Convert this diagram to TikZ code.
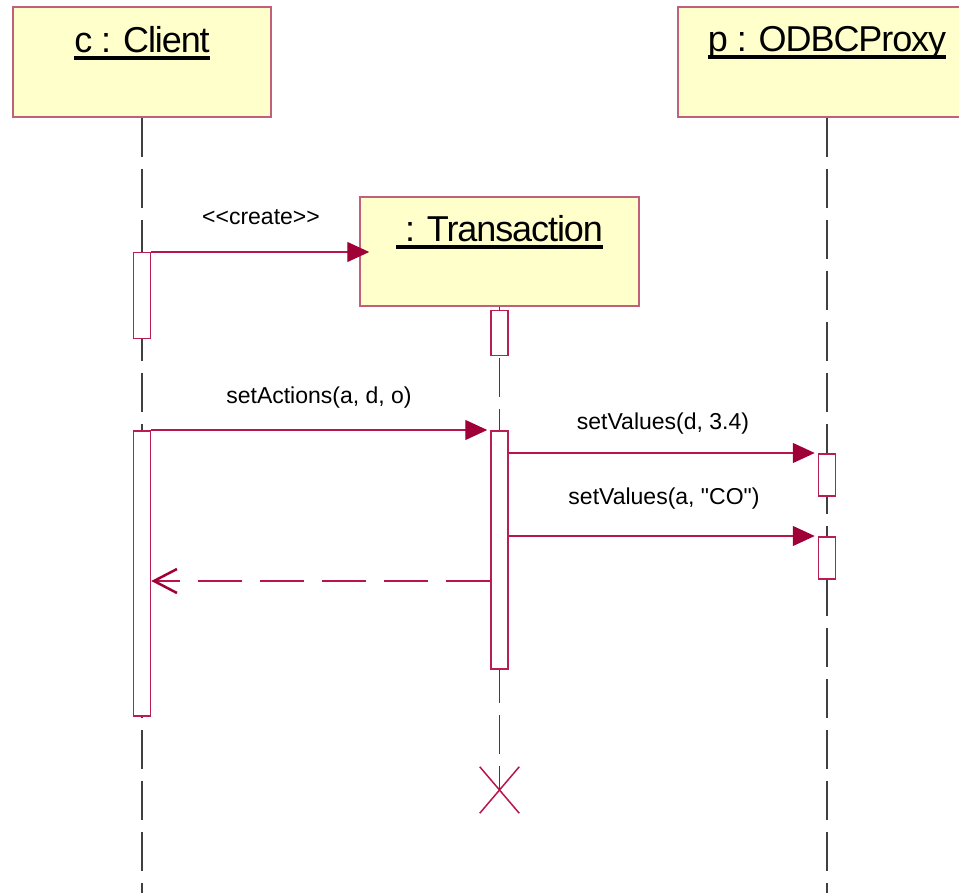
\documentclass[tikz,border=0pt]{standalone}
\usepackage{fontspec}
\setmainfont{Liberation Sans}[Ligatures=TeXOff]
\usetikzlibrary{arrows.meta,shapes.misc}

\definecolor{objfill}{HTML}{FFFFCC}
\definecolor{objborder}{HTML}{C0607A}
\definecolor{msgline}{HTML}{B8164A}
\definecolor{msghead}{HTML}{A00038}
\definecolor{actborder}{HTML}{B81E50}
\definecolor{lifegray}{HTML}{404040}

\newcommand{\objname}[1]{\setbox0=\hbox{#1}\rlap{\rule[-8pt]{\wd0}{4pt}}\box0}

\tikzset{
  obj/.style={draw=objborder, fill=objfill, line width=1.5pt, minimum width=#1, minimum height=110pt, inner sep=0pt},
  objtitle/.style={font=\fontsize{36}{42}\selectfont\addfontfeature{LetterSpace=-3}, inner sep=0pt, anchor=base},
  lifeline/.style={draw=lifegray, line width=1.5pt, dash pattern=on 39pt off 12pt},
  act/.style={draw=actborder, fill=white, line width=1.5pt, minimum width=17pt, inner sep=0pt, anchor=north},
  msg/.style={draw=msgline, line width=1.3pt, -{Triangle[length=22pt,width=20pt,color=msghead]}, shorten >=3pt},
  reply/.style={draw=msgline, line width=1.3pt, dash pattern=on 44pt off 18pt, -{Straight Barb[length=23pt,width=24pt,line width=2.5pt,color=msghead]}},
  msglabel/.style={font=\fontsize{23}{27}\selectfont, inner sep=0pt},
}

\begin{document}
\begin{tikzpicture}[x=1pt,y=-1pt]
    \clip (0,0) rectangle (959,893);

    % objects
    \node[obj=258pt] (client) at (142,62) {};
    \node[obj=279pt, minimum height=109pt] (trans) at (499.5,251.5) {};
    \node[obj=298pt] (proxy) at (827,62) {};
    \node[objtitle] (clientname) at ([yshift=-46pt]client.north) {\objname{c : Client}};
    \node[objtitle] (transname) at ([yshift=-45pt]trans.north) {\objname{\ : Transaction}};
    \node[objtitle] (proxyname) at ([yshift=-45pt]proxy.north) {\objname{p : ODBCProxy}};

    % lifelines
    \coordinate (bottom) at (0,893);
    \node[draw=msgline, cross out, line width=1.5pt, minimum width=38pt, minimum height=45pt, inner sep=0pt] (kill) at (499.5,790) {};
    \foreach \o in {client,proxy}{
        \draw[lifeline] (\o.south) -- (\o.south |- bottom);
    }
    \draw[lifeline] (trans.south) -- (kill.center);

    % activations
    \foreach \n/\x/\y/\h in {cact1/142/252/86, cact2/142/430/285, tact1/499.5/310/45, tact2/499.5/430/238, pact1/827/453/42, pact2/827/536/42}{
        \node[act, minimum height=\h pt] (\n) at (\x,\y) {};
    }

    % messages
    \draw[msg, shorten >=-10pt] (cact1.north east) -- (cact1.north east -| trans.west);
    \draw[msg] (cact2.north east) -- (tact2.north west);
    \draw[msg] (tact2.east |- pact1.north) -- (pact1.north west);
    \draw[msg] (tact2.east |- pact2.north) -- (pact2.north west);
    \coordinate (ret) at (tact2.west |- 0,581);
    \draw[reply] (ret) -- (ret -| cact2.east);

    \node[msglabel] (createlbl) at (261,217) {<<create>>};
    \node[msglabel] (actionslbl) at (319,398) {setActions(a, d, o)};
    \node[msglabel] (values1lbl) at (663,424) {setValues(d, 3.4)};
    \node[msglabel] (values2lbl) at (664,499) {setValues(a, "CO")};
\end{tikzpicture}
\end{document}
